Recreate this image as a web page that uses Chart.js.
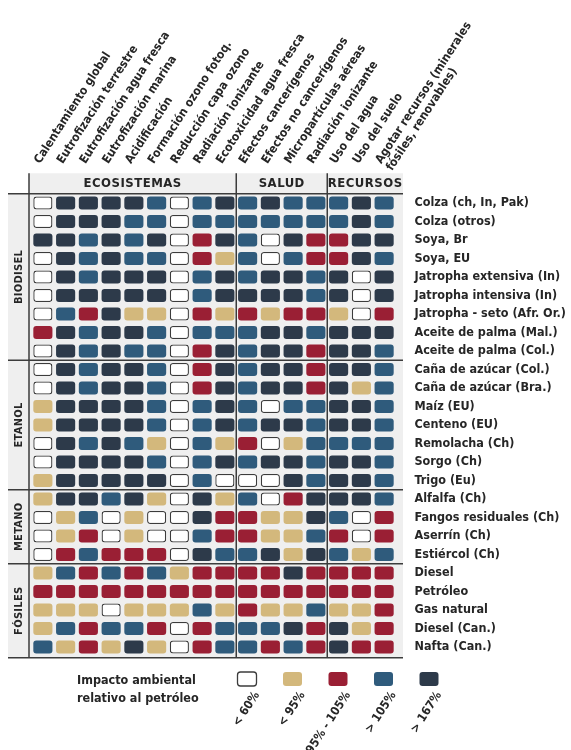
<!DOCTYPE html>
<html>
<head>
<meta charset="utf-8">
<title>Impacto ambiental relativo al petróleo</title>
<script src="https://cdn.jsdelivr.net/npm/chart.js@4.4.1/dist/chart.umd.min.js"></script>
<style>
  body{margin:0;background:#fff;}
  #wrap{width:571px;height:750px;}
</style>
</head>
<body>
<div id="wrap"><canvas id="chart" width="571" height="750"></canvas></div>
<script>
// indicadores (columnas)
const columnas = [
  'Calentamiento global', 'Eutrofización terrestre', 'Eutrofización agua fresca',
  'Eutrofización marina', 'Acidificación', 'Formación ozono fotoq.',
  'Reducción capa ozono', 'Radiación ionizante', 'Ecotoxicidad agua fresca',
  'Efectos cancerígenos', 'Efectos no cancerígenos', 'Micropartículas aéreas',
  'Radiación ionizante', 'Uso del agua', 'Uso del suelo',
  ['Agotar recursos (minerales', 'fósiles, renovables)']
];
const bloques = ['ECOSISTEMAS', 'SALUD', 'RECURSOS'];
const bloquesN = [9, 4, 3];

// combustibles (filas) por grupo
const grupos = ['BIODISEL', 'ETANOL', 'METANO', 'FÓSILES'];
const biodisel = ['Colza (ch, In, Pak)', 'Colza (otros)', 'Soya, Br', 'Soya, EU',
  'Jatropha extensiva (In)', 'Jatropha intensiva (In)', 'Jatropha - seto (Afr. Or.)',
  'Aceite de palma (Mal.)', 'Aceite de palma (Col.)'];
const etanol = ['Caña de azúcar (Col.)', 'Caña de azúcar (Bra.)', 'Maíz (EU)', 'Centeno (EU)',
  'Remolacha (Ch)', 'Sorgo (Ch)', 'Trigo (Eu)'];
const metano = ['Alfalfa (Ch)', 'Fangos residuales (Ch)', 'Aserrín (Ch)', 'Estiércol (Ch)'];
const fosiles = ['Diesel', 'Petróleo', 'Gas natural', 'Diesel (Can.)', 'Nafta (Can.)'];

// clase de impacto: 0 <60%, 1 <95%, 2 95-105%, 3 >105%, 4 >167%
const impBiodisel = [
  [0,4,4,4,4,3,0,3,4, 3,4,3,3, 3,4,3],
  [0,4,4,4,3,3,0,3,3, 3,3,3,3, 3,4,3],
  [4,4,3,4,3,4,0,2,4, 3,0,4,2, 2,4,4],
  [0,4,3,4,3,3,0,2,1, 3,0,3,2, 2,4,3],
  [0,4,3,4,4,4,0,3,4, 3,4,4,3, 4,0,4],
  [0,4,4,4,4,4,0,3,4, 4,4,4,3, 4,0,4],
  [0,3,2,4,1,1,0,2,1, 2,1,2,2, 1,0,2],
  [2,4,3,4,4,3,0,3,3, 3,4,4,3, 4,4,4],
  [0,4,3,4,3,3,0,2,4, 3,4,4,2, 4,4,3]
];
const impEtanol = [
  [0,4,3,4,4,3,0,2,4, 3,4,4,2, 4,4,3],
  [0,4,3,4,4,3,0,2,4, 3,4,4,2, 4,1,3],
  [1,4,4,4,4,3,0,3,4, 3,0,3,3, 4,4,3],
  [1,4,4,4,4,3,0,3,4, 3,4,4,3, 4,4,3],
  [0,4,3,4,3,1,0,3,1, 2,0,1,3, 3,3,3],
  [0,4,4,4,4,3,0,3,4, 3,4,4,3, 4,4,3],
  [1,4,4,4,4,4,0,3,0, 0,0,4,3, 4,4,3]
];
const impMetano = [
  [1,4,4,3,4,1,0,4,1, 3,0,2,4, 4,4,3],
  [0,1,3,0,1,0,0,4,2, 2,1,1,4, 3,0,2],
  [0,1,2,0,1,0,0,3,2, 2,1,1,3, 2,0,2],
  [0,2,3,2,2,2,0,4,3, 3,4,1,4, 3,1,3]
];
const impFosiles = [
  [1,3,2,3,2,3,1,2,2, 2,2,4,2, 2,2,2],
  [2,2,2,2,2,2,2,2,2, 2,2,2,2, 2,2,2],
  [1,1,1,0,1,1,1,3,1, 2,1,1,3, 1,1,2],
  [1,3,2,3,3,2,0,2,3, 3,3,4,2, 4,1,2],
  [3,1,2,1,4,1,0,2,3, 3,2,3,2, 4,2,2]
];

const leyenda = ['< 60%', '< 95%', '95% - 105%', '> 105%', '> 167%'];
const colores = ['#ffffff', '#d3b87c', '#9a1f34', '#2f5b7c', '#2d3a4a'];

const FUENTE = "'Liberation Sans Narrow', 'DejaVu Sans Condensed', Roboto, sans-serif";
const TEXTO = '#262626';
const LINEA = '#3c3c3c';

const filas = biodisel.concat(etanol, metano, fosiles);
const impacto = impBiodisel.concat(impEtanol, impMetano, impFosiles);
const gruposN = [biodisel.length, etanol.length, metano.length, fosiles.length];

// one dataset per column, floating horizontal bars = cells
const datasets = columnas.map(function(col, c){
  return {
    label: [].concat(col).join(' '),
    data: filas.map(function(){ return [c - 0.42, c + 0.42]; }),
    backgroundColor: function(ctx){ return colores[impacto[ctx.dataIndex][c]]; },
    borderColor: LINEA,
    borderWidth: function(ctx){ return impacto[ctx.dataIndex][c] === 0 ? 1.3 : 0; }
  };
});

// frame, column titles, group headers, side labels and legend
const marco = {
  id: 'marco',
  beforeDraw(chart){
    const ctx = chart.ctx, x = chart.scales.x, area = chart.chartArea;
    const izq = x.getPixelForValue(-0.5) - 2.5;
    const der = x.getPixelForValue(15.5) + 7.5;
    ctx.save();
    ctx.fillStyle = '#efefef';
    ctx.fillRect(izq, area.top - 20.5, der - izq, area.bottom - area.top + 22);
    ctx.fillRect(8, area.top, izq - 8, area.bottom - area.top + 1.5);
    ctx.restore();
  },
  afterDraw(chart){
    const ctx = chart.ctx, x = chart.scales.x, y = chart.scales.y, area = chart.chartArea;
    const izq = x.getPixelForValue(-0.5) - 2.5;
    const der = x.getPixelForValue(15.5) + 7.5;
    const top = area.top - 20.5, bottom = area.bottom + 1.5;
    ctx.save();
    ctx.strokeStyle = LINEA;
    ctx.lineWidth = 1.5;
    ctx.beginPath();
    // verticals
    ctx.moveTo(izq, top); ctx.lineTo(izq, bottom);
    let acc = 0;
    let xs = [izq];
    for (let i = 0; i < bloquesN.length - 1; i++) {
      acc += bloquesN[i];
      const xv = x.getPixelForValue(acc - 0.5);
      ctx.moveTo(xv, top); ctx.lineTo(xv, bottom);
      xs.push(xv);
    }
    xs.push(der);
    // horizontals
    ctx.moveTo(8, area.top); ctx.lineTo(der, area.top);
    ctx.moveTo(8, bottom); ctx.lineTo(der, bottom);
    acc = 0;
    let ys = [area.top];
    for (let i = 0; i < gruposN.length - 1; i++) {
      acc += gruposN[i];
      const yv = (y.getPixelForValue(acc - 1) + y.getPixelForValue(acc)) / 2;
      ctx.moveTo(8, yv); ctx.lineTo(der, yv);
      ys.push(yv);
    }
    ys.push(bottom);
    ctx.stroke();

    ctx.fillStyle = TEXTO;

    // column titles, slanted, starting at each column of the x scale
    ctx.font = 'bold 12px ' + FUENTE;
    ctx.textAlign = 'left';
    ctx.textBaseline = 'alphabetic';
    columnas.forEach(function(col, i){
      ctx.save();
      ctx.translate(x.getPixelForValue(i) - 3, top - 9);
      ctx.rotate(-57 * Math.PI / 180);
      [].concat(col).forEach(function(t, k){ ctx.fillText(t, 0, k * 13); });
      ctx.restore();
    });

    ctx.font = 'bold 13px ' + FUENTE;
    ctx.letterSpacing = '0.5px';
    ctx.textAlign = 'center';
    ctx.textBaseline = 'middle';
    bloques.forEach(function(b, i){
      ctx.fillText(b, (xs[i] + xs[i+1]) / 2, top + 10.5);
    });
    ctx.font = 'bold 11px ' + FUENTE;
    ctx.letterSpacing = '0.3px';
    grupos.forEach(function(g, i){
      ctx.save();
      ctx.translate(19, (ys[i] + ys[i+1]) / 2);
      ctx.rotate(-Math.PI / 2);
      ctx.fillText(g, 0, 0);
      ctx.restore();
    });

    // legend
    ctx.letterSpacing = '0px';
    ctx.textAlign = 'left';
    ctx.textBaseline = 'alphabetic';
    ctx.font = 'bold 12.5px ' + FUENTE;
    ctx.fillText('Impacto ambiental', 77, 684);
    ctx.fillText('relativo al petróleo', 77, 702);
    ctx.font = 'bold 12px ' + FUENTE;
    leyenda.forEach(function(t, i){
      const cx = 247 + i * 45.5;
      ctx.fillStyle = colores[i];
      ctx.beginPath();
      ctx.roundRect(cx - 9.5, 672, 19, 14, 3);
      ctx.fill();
      if (i === 0) { ctx.lineWidth = 1.3; ctx.stroke(); }
      ctx.save();
      ctx.fillStyle = TEXTO;
      ctx.translate(cx + 10, 693);
      ctx.rotate(-57 * Math.PI / 180);
      ctx.textAlign = 'right';
      ctx.textBaseline = 'middle';
      ctx.fillText(t, 0, 0);
      ctx.restore();
    });
    ctx.restore();
  }
};

Chart.defaults.font.family = FUENTE;

chart = new Chart(document.getElementById('chart'), {
  type: 'bar',
  data: { labels: filas, datasets: datasets },
  options: {
    indexAxis: 'y',
    responsive: false,
    animation: false,
    devicePixelRatio: 1,
    layout: { padding: { left: 31.5, right: 0, top: 0, bottom: 93.75 } },
    datasets: { bar: { grouped: false, barPercentage: 0.7, categoryPercentage: 1, borderRadius: 3, borderSkipped: false } },
    plugins: { legend: { display: false }, tooltip: { enabled: false } },
    scales: {
      x: {
        type: 'linear', position: 'top', min: -0.5, max: 15.5,
        grid: { display: false, drawTicks: false }, border: { display: false },
        afterFit: function(s){ s.height = 193.75; },
        ticks: { display: false }
      },
      y: {
        type: 'category', position: 'right',
        grid: { display: false, drawTicks: false }, border: { display: false },
        afterFit: function(s){ s.width = 175.5; },
        ticks: { autoSkip: false, padding: 19, color: TEXTO, font: { size: 12.5, weight: 'bold' } }
      }
    }
  },
  plugins: [marco]
});
</script>
</body>
</html>
